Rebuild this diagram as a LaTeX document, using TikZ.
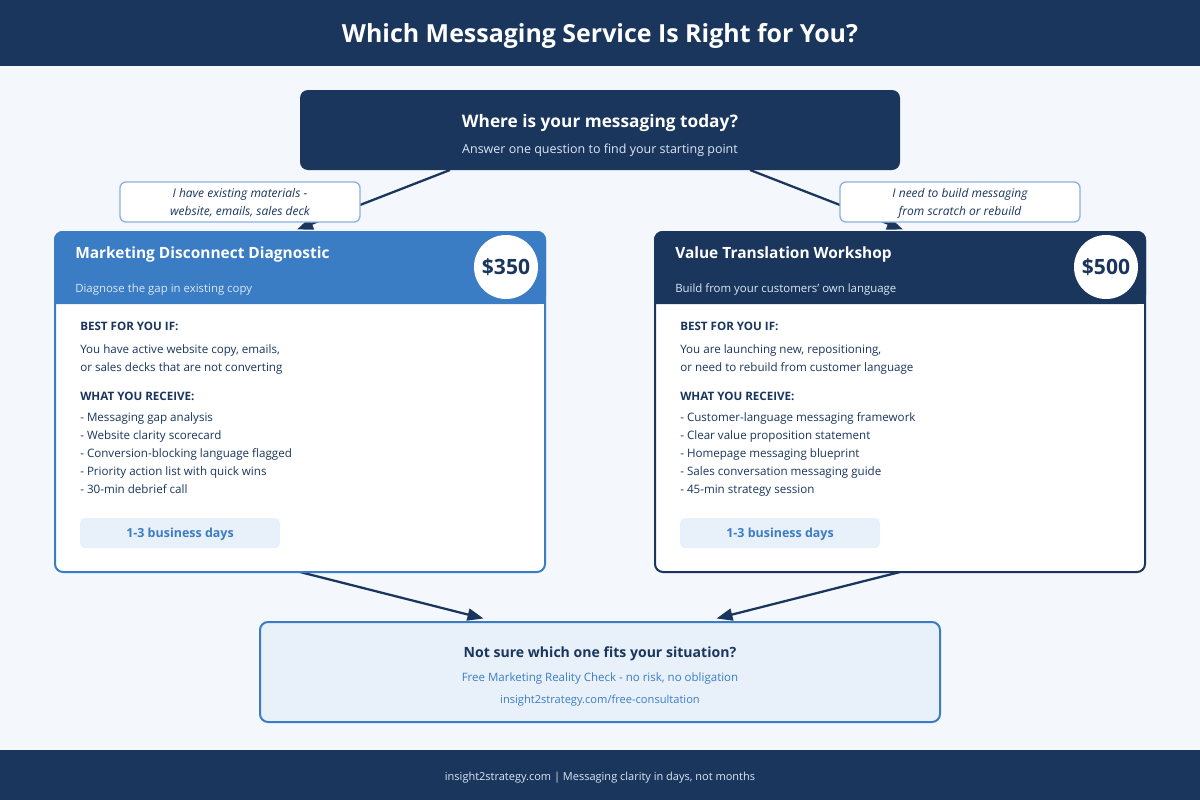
\documentclass[tikz,border=0pt]{standalone}
\usepackage{fontspec}
\setmainfont{Open Sans}
\usetikzlibrary{positioning}
\usetikzlibrary{backgrounds}
\usetikzlibrary{calc}
\usetikzlibrary{arrows.meta}
\definecolor{navy}{HTML}{1A365D}
\definecolor{midblue}{HTML}{3B7DC4}
\definecolor{pagebg}{HTML}{F4F7FC}
\definecolor{paleblue}{HTML}{E8F0FA}
\definecolor{edgeblue}{HTML}{8AB0DE}
\definecolor{softtext}{HTML}{DCE8F5}
\newcommand{\setpx}[1]{\fontsize{#1}{#1}\selectfont}
\tikzset{
	band/.style={rectangle, fill=navy, minimum width=900pt, inner sep=0pt, outer sep=0pt},
	askbox/.style={rectangle, fill=navy, rounded corners=6pt, minimum width=450pt, minimum height=60pt, outer sep=0pt},
	choice/.style={draw=edgeblue, fill=white, line width=1pt, rounded corners=4.5pt, minimum width=180pt, minimum height=30pt, inner sep=0pt, outer sep=0pt, align=center, text depth=-0.5pt, text=navy, font=\fontsize{9}{12.9}\selectfont\itshape},
	card/.style={fill=white, line width=1.5pt, rounded corners=6pt, minimum width=367.5pt, minimum height=255pt, outer sep=0pt},
	pricetag/.style={circle, fill=white, minimum size=48pt, inner sep=0pt, text=navy, font=\setpx{15.8}\bfseries},
	daysbox/.style={fill=paleblue, rounded corners=3.75pt, minimum width=150pt, minimum height=22.5pt, inner sep=0pt, text height=8pt, text depth=2pt, text=midblue, font=\setpx{9.35}\bfseries},
	ctabox/.style={draw=midblue, fill=paleblue, line width=1.5pt, rounded corners=6pt, minimum width=510pt, minimum height=75pt, outer sep=0pt},
	% text lines, placed by their base line
	cardhead/.style={anchor=base west, inner sep=0pt, text=white, font=\setpx{11.6}\bfseries},
	cardsub/.style={anchor=base west, inner sep=0pt, text=softtext, font=\setpx{8.56}},
	heading/.style={anchor=base west, inner sep=0pt, text=navy, font=\setpx{8.7}\bfseries},
	listline/.style={anchor=base west, inner sep=0pt, text=navy, font=\setpx{8.7}},
	midline/.style={anchor=base, inner sep=0pt},
}

\begin{document}
\begin{tikzpicture}[x=0.75pt, y=-0.75pt]
	\useasboundingbox (0,0) rectangle (1200,800);
	
	\node (top) [band, minimum height=49.5pt] at (600,33) {};
	\node (foot) [band, minimum height=37.5pt] at (600,775) {};
	\node (title) [midline, text=white, font=\setpx{18.7}\bfseries] at (600,42) {Which Messaging Service Is Right for You?};
	\node (footer) [midline, text=softtext, font=\setpx{8.25}] at (600,780) {insight2strategy.com | Messaging clarity in days, not months};
	
	\node (ask) [askbox] at (600,130) {};
	\node (askmain) [midline, text=white, font=\setpx{12.94}\bfseries] at (600,127) {Where is your messaging today?};
	\node (asksub) [midline, text=softtext, font=\setpx{9.37}] at (600,153) {Answer one question to find your starting point};
	
	\node (existing) [choice] at (240,202) {I have existing materials -\\website, emails, sales deck};
	\node (scratch) [choice] at (960,202) {I need to build messaging\\from scratch or rebuild};
	
	% left card
	\node (diag) [card, draw=midblue] at (300,402) {};
	\fill [midblue, rounded corners=6.5pt] (54,304) -- (54,231) -- (546,231) -- (546,304) [sharp corners] -- cycle;
	\fill [midblue] (54,290) rectangle (546,304);
	\node (diaghead) [cardhead] at (75,258) {Marketing Disconnect Diagnostic};
	\node (diagsub) [cardsub] at (75,292) {Diagnose the gap in existing copy};
	\node (diagprice) [pricetag] at (506,267) {\$350};
	
	\node (diagbest) [heading] at (80,330) {BEST FOR YOU IF:};
	\node (diagfit1) [listline] at (80,353) {You have active website copy, emails,};
	\node (diagfit2) [below=13.5pt of diagfit1.base west, listline] {or sales decks that are not converting};
	\node (diagwhat) [heading] at (80,400) {WHAT YOU RECEIVE:};
	\node (diagitem1) [listline] at (80,421) {- Messaging gap analysis};
	\node (diagitem2) [below=13.5pt of diagitem1.base west, listline] {- Website clarity scorecard};
	\node (diagitem3) [below=13.5pt of diagitem2.base west, listline] {- Conversion-blocking language flagged};
	\node (diagitem4) [below=13.5pt of diagitem3.base west, listline] {- Priority action list with quick wins};
	\node (diagitem5) [below=13.5pt of diagitem4.base west, listline] {- 30-min debrief call};
	\node (diagdays) [daysbox] at (180,533) {1-3 business days};
	
	% right card
	\node (value) [card, draw=navy] at (900,402) {};
	\fill [navy, rounded corners=6.5pt] (654,304) -- (654,231) -- (1146,231) -- (1146,304) [sharp corners] -- cycle;
	\fill [navy] (654,290) rectangle (1146,304);
	\node (valuehead) [cardhead] at (675,258) {Value Translation Workshop};
	\node (valuesub) [cardsub] at (675,292) {Build from your customers' own language};
	\node (valueprice) [pricetag] at (1106,267) {\$500};
	
	\node (valuebest) [heading] at (680,330) {BEST FOR YOU IF:};
	\node (valuefit1) [listline] at (680,353) {You are launching new, repositioning,};
	\node (valuefit2) [below=13.5pt of valuefit1.base west, listline] {or need to rebuild from customer language};
	\node (valuewhat) [heading] at (680,400) {WHAT YOU RECEIVE:};
	\node (valueitem1) [listline] at (680,421) {- Customer-language messaging framework};
	\node (valueitem2) [below=13.5pt of valueitem1.base west, listline] {- Clear value proposition statement};
	\node (valueitem3) [below=13.5pt of valueitem2.base west, listline] {- Homepage messaging blueprint};
	\node (valueitem4) [below=13.5pt of valueitem3.base west, listline] {- Sales conversation messaging guide};
	\node (valueitem5) [below=13.5pt of valueitem4.base west, listline] {- 45-min strategy session};
	\node (valuedays) [daysbox] at (780,533) {1-3 business days};
	
	% bottom box
	\node (cta) [ctabox] at (600,672) {};
	\node (ctamain) [midline, text=navy, font=\setpx{10.55}\bfseries] at (600,657) {Not sure which one fits your situation?};
	\node (ctasub) [midline, text=midblue, font=\setpx{8.63}] at (600,681) {Free Marketing Reality Check - no risk, no obligation};
	\node (ctaurl) [midline, text=midblue, font=\setpx{8.33}] at (600,703) {insight2strategy.com/free-consultation};
	
	\begin{pgfonlayer}{background}
		\fill [pagebg] (0,0) rectangle (1200,800);
		\begin{scope}[line width=1.7pt, navy, ->, >={Triangle[length=12pt, width=9pt]}]
			\draw ($(ask.south west)!0.25!(ask.south east)$) -- ($(diag.north)+(-3,-2.5)$);
			\draw ($(ask.south west)!0.75!(ask.south east)$) -- ($(value.north)+(3,-2.5)$);
			\draw (diag.south) -- ($(cta.north)+(-116.5,-3.5)$);
			\draw (value.south) -- ($(cta.north)+(116.5,-3.5)$);
		\end{scope}
	\end{pgfonlayer}
\end{tikzpicture}
\end{document}
